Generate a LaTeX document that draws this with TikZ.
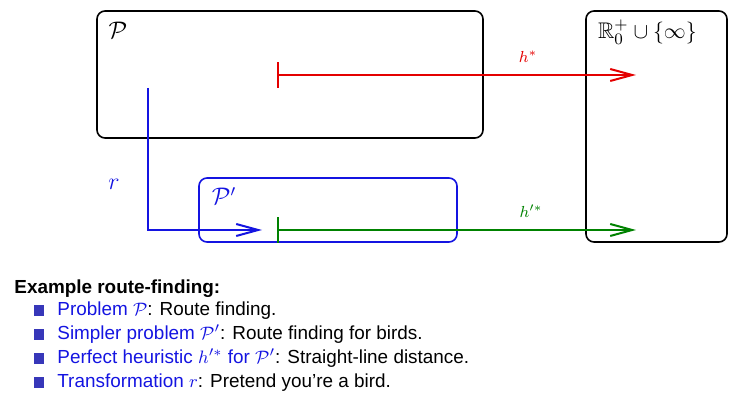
\documentclass[tikz,border=0pt]{standalone}
\usepackage{amssymb}
\usepackage[no-math]{fontspec}
\setmainfont{Liberation Sans}
\usetikzlibrary{arrows.meta}

\definecolor{hred}{RGB}{228,0,0}
\definecolor{hgreen}{RGB}{0,130,0}
\definecolor{tblue}{RGB}{20,20,225}
\definecolor{bullet}{RGB}{55,55,185}

\begin{document}
\begin{tikzpicture}[x=0.5pt,y=-0.5pt,
    font=\fontsize{9.45pt}{11pt}\selectfont,
    box/.style={draw,rounded corners=4pt,inner sep=0pt,line width=0.8pt},
    item/.style={anchor=base west,inner sep=0pt},
    bul/.style={fill=bullet,minimum size=5.3pt,inner sep=0pt}]

  \useasboundingbox (0,0) rectangle (734,400);

  % the three sets
  \node[box,minimum width=193pt,minimum height=63.5pt] (p) at (290,74.5) {};
  \node[box,minimum width=70.5pt,minimum height=115.5pt] (reals) at (656.5,126.5) {};
  \node[box,draw=tblue,minimum width=129pt,minimum height=32pt] (pp) at (328,210) {};

  \draw (118,30) node {\large $\mathcal{P}$};
  \draw (224,196) node[tblue] {\large $\mathcal{P}'$};
  \draw (647.5,32) node[inner sep=0pt] {\fontsize{11.3pt}{13pt}\selectfont $\mathbb{R}^+_0 \cup \{\infty\}$};

  % end points
  \coordinate (hs) at (277,75);
  \coordinate (hsend) at (636,75);
  \coordinate (hps) at (277,230);
  \coordinate (hpsend) at (636,230);
  \coordinate (rs) at (148,88);
  \coordinate (rend) at (262,230);

  \draw[hred,line width=1pt,{Bar[width=13pt]}-{Straight Barb[length=11pt,width=6pt]}] (hs) -- (hsend);
  \draw[hgreen,line width=1pt,{Bar[width=13pt]}-{Straight Barb[length=11pt,width=6pt]}] (hps) -- (hpsend);
  \draw[tblue,line width=1pt,-{Straight Barb[length=11pt,width=6pt]}] (rs) |- (rend);

  \draw (528,57) node[hred] {\footnotesize $h^*$};
  \draw (531,211) node[hgreen] {\footnotesize $h'^*$};
  \draw (114,184) node[tblue] {\large $r$};

  % the example
  \node[item] (ex) at (14,294) {\bfseries Example route-finding:};

  \node[bul] (b1) at (39,310.5) {};
  \node[bul] (b2) at (39,334.5) {};
  \node[bul] (b3) at (39,358.5) {};
  \node[bul] (b4) at (39,382.5) {};

  \node[item] (i1) at (57,316) {\color{tblue}Problem $\mathcal{P}$\color{black}: Route finding.};
  \node[item] (i2) at (57,340) {\color{tblue}Simpler problem $\mathcal{P}'$\color{black}: Route finding for birds.};
  \node[item] (i3) at (57,364) {\color{tblue}Perfect heuristic $h'^*$ for $\mathcal{P}'$\color{black}: Straight-line distance.};
  \node[item] (i4) at (57,388) {\color{tblue}Transformation $r$\color{black}: Pretend you’re a bird.};

\end{tikzpicture}
\end{document}
